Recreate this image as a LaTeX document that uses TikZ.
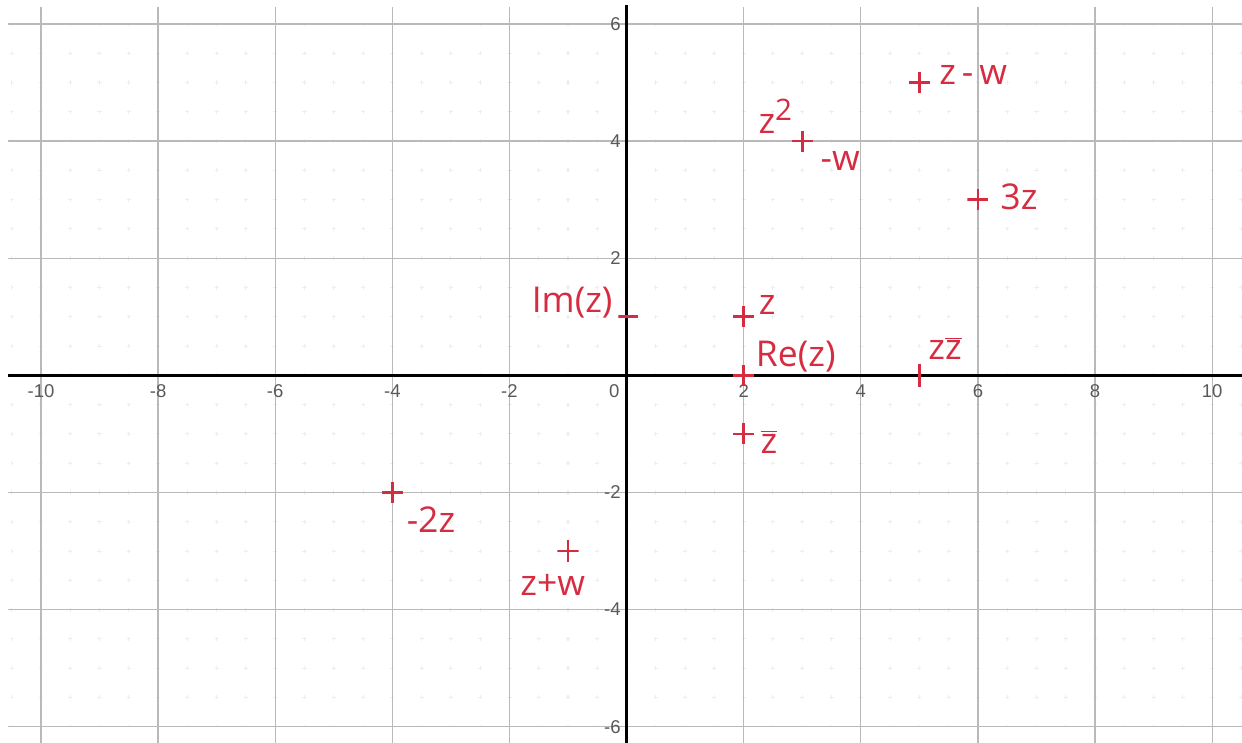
\documentclass[tikz,border=0pt]{standalone}
\usepackage{fontspec}
\setsansfont{Liberation Sans}
\newfontfamily\handfont{Open Sans}
\usetikzlibrary{positioning}
\definecolor{pen}{RGB}{214,44,66}
\tikzset{
	gridline/.style={gray!55, line width=0.6pt},
	minorgrid/.style={gray!13, line width=0.5pt, dash pattern=on 2pt off 12.2264pt, dash phase=1pt},% faint dots at half units
	axisline/.style={black, line width=1.2pt},
	ticklbl/.style={font=\sffamily\small, text=black!65, inner sep=1pt},
	lbl/.style={font=\handfont\LARGE, text=pen, inner sep=0pt},
	crossmark/.style={minimum size=0.36cm, inner sep=0pt, path picture={
		\draw[pen, line width=1.3pt] (path picture bounding box.north) -- (path picture bounding box.south)
			(path picture bounding box.west) -- (path picture bounding box.east);}},
	vtick/.style={minimum width=0.1cm, minimum height=0.4cm, inner sep=0pt, path picture={
		\draw[pen, line width=1.3pt] (path picture bounding box.north) -- (path picture bounding box.south);}},
	htick/.style={minimum width=0.34cm, minimum height=0.1cm, inner sep=0pt, path picture={
		\draw[pen, line width=1.3pt] (path picture bounding box.west) -- (path picture bounding box.east);}}
}

\begin{document}
\begin{tikzpicture}
	\useasboundingbox (-10.70,-6.27) rectangle (10.51,6.41);
	% grid
	\draw[minorgrid] (-10.5,-6) grid[step=0.5] (10.5,6);
	\foreach \y in {-6,-4,...,6}
		\draw[gridline] (-10.56,\y) -- (10.51,\y);
	\foreach \x in {-10,-8,...,10}
		\draw[gridline] (\x,6.29) -- (\x,-6.27);
	\draw[axisline] (-10.56,0) -- (10.51,0);
	\draw[axisline] (0,6.32) -- (0,-6.27);
	\foreach \x in {-10,-8,-6,-4,-2,2,4,6,8,10}
		\node[ticklbl, anchor=north] at (\x,-0.12) {\x};
	\node[ticklbl, anchor=north east] (orig) at (-0.08,-0.12) {0};
	\foreach \y in {-6,-4,-2,2,4,6}
		\node[ticklbl, anchor=east] at (-0.06,\y) {\y};

	% points
	\node[crossmark] (z) at (2,1) {};
	\node[crossmark] (re) at (2,0) {};
	\node[htick] (im) at (0.03,1) {};
	\node[crossmark] (zb) at (2,-1) {};
	\node[vtick] (zzb) at (5,0) {};
	\node[crossmark] (tz) at (6,3) {};
	\node[crossmark] (zmw) at (5,5) {};
	\node[crossmark] (zsq) at (3,4) {};
	\node[crossmark] (mtz) at (-4,-2) {};
	\node[crossmark] (zpw) at (-1,-3) {};

	% labels
	\node[lbl] (zl) at (2.40,1.20) {z};
	\node[lbl] (rel) at (2.89,0.32) {Re(z)};
	\node[lbl] (iml) at (-0.93,1.24) {Im(z)};
	\node[lbl] (zbl) at (2.43,-1.13) {\(\overline{\mbox{z}}\)};
	\node[lbl] (zzbl) at (5.44,0.46) {z\(\overline{\mbox{z}}\)};
	\node[lbl] (tzl) at (6.70,3.05) {3z};
	\node[lbl] (zmwl) at (5.92,5.13) {z\,-\,w};
	\node[lbl] (zsql) at (2.54,4.43) {z\raisebox{0.7ex}{\Large 2}};
	\node[lbl] (mwl) at (3.65,3.66) {-w};
	\node[lbl] (mtzl) at (-3.34,-2.47) {-2z};
	\node[lbl] (zpwl) at (-1.26,-3.58) {z+w};
\end{tikzpicture}
\end{document}
